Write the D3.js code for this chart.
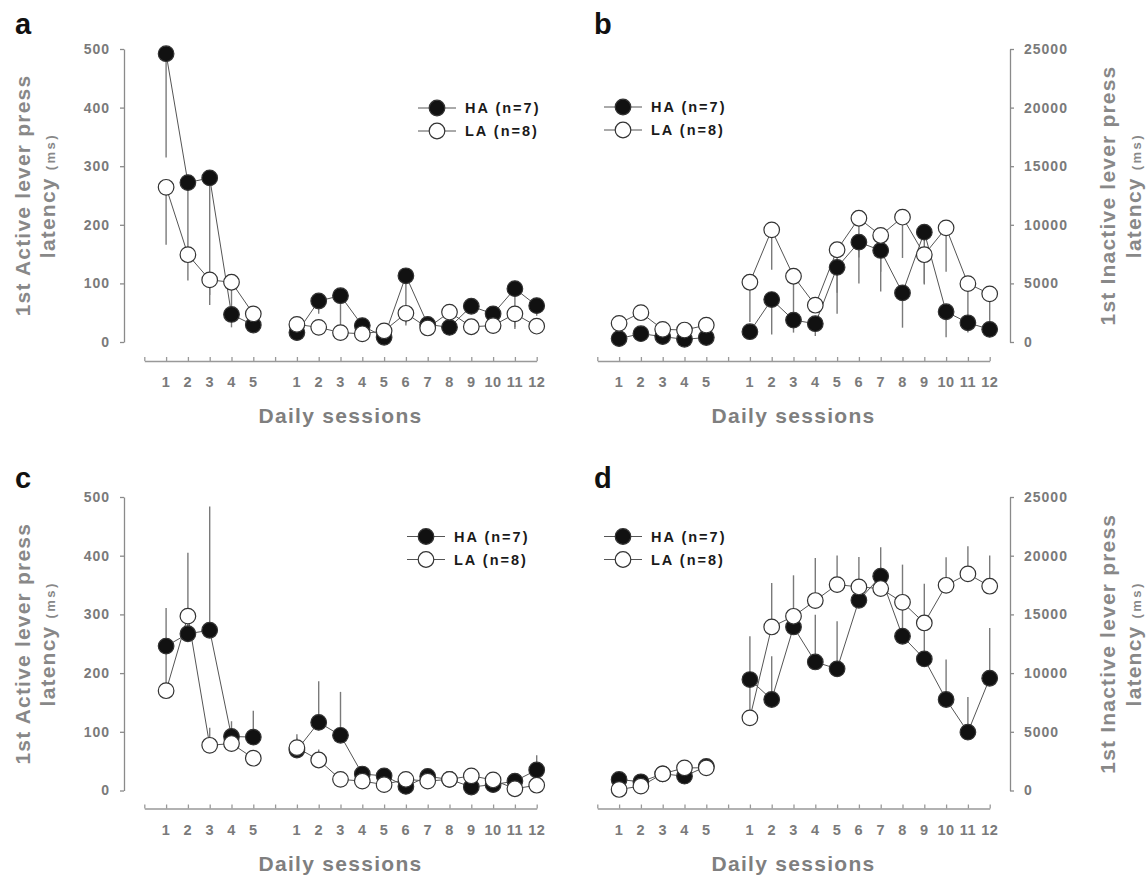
<!DOCTYPE html>
<html>
<head>
<meta charset="utf-8">
<script src="https://cdn.jsdelivr.net/npm/d3@7"></script>
<style>
  body { margin: 0; background: #fff; }
  svg text { font-family: "Liberation Sans", Arial, sans-serif; font-weight: bold; }
</style>
</head>
<body>
<svg id="chart" width="1148" height="875"></svg>
<script>
// session labels: 5 early sessions, a gap, then 12 later sessions
const phase1Labels = ["1", "2", "3", "4", "5"];
const phase2Labels = ["1", "2", "3", "4", "5", "6", "7", "8", "9", "10", "11", "12"];
const groupNames = ["HA (n=7)", "LA (n=8)"];

// panel a - active lever latency (ms), error bar drawn downward (value = bar end)
const aHA    = [492, 272, 280, 47, 29,   16, 70, 79, 28, 8, 113, 30, 25, 61, 48, 91, 62];
const aLA    = [264, 149, 106, 102, 48,  30, 25, 16, 14, 19, 49, 24, 51, 26, 28, 48, 27];
const aHAerr = [315, 160, 63, 25, 20,    14, 48, 25, 20, 5, 28, 25, 23, 50, 40, 25, 45];
const aLAerr = [166, 105, 80, 60, 35,    25, 20, 10, 10, 15, 32, 20, 40, 20, 22, 22, 20];

// panel b - inactive lever latency (ms), error bar drawn downward
const bHA    = [290, 710, 460, 230, 380,      880, 3620, 1870, 1560, 6370, 8520, 7810, 4190, 9370, 2580, 1640, 1080];
const bLA    = [1590, 2500, 1080, 1020, 1440, 5100, 9570, 5610, 3140, 7870, 10560, 9090, 10650, 7450, 9740, 4980, 4110];
const bHAerr = [150, 500, 300, 100, 200,      500, 650, 800, 510, 2400, 5000, 4300, 1220, 5000, 400, 800, 600];
const bLAerr = [1300, 2000, 800, 800, 1200,   1700, 6170, 1900, 2500, 4200, 7200, 6000, 7170, 4900, 6000, 1700, 1500];

// panel c - active lever latency (ms), error bar drawn upward
const cHA    = [246, 267, 273, 92, 91,   69, 116, 94, 28, 25, 7, 24, 19, 6, 10, 16, 35];
const cLA    = [170, 297, 77, 80, 55,    73, 52, 19, 16, 10, 19, 16, 19, 25, 18, 3, 9];
const cHAerr = [311, 300, 484, 118, 136, 90, 186, 168, 35, 32, 12, 30, 24, 10, 14, 20, 60];
const cLAerr = [245, 405, 107, 95, 65,   96, 70, 25, 22, 15, 24, 22, 24, 30, 22, 8, 14];

// panel d - inactive lever latency (ms), error bar drawn upward
const dHA    = [940, 740, 1420, 1220, 2050,  9450, 7750, 13930, 10950, 10360, 16200, 18250, 13140, 11210, 7750, 4970, 9560];
const dLA    = [90, 370, 1420, 1930, 1930,   6190, 13930, 14840, 16180, 17540, 17340, 17200, 16030, 14270, 17480, 18450, 17400];
const dHAerr = [1100, 900, 1500, 1400, 2200, 13140, 11440, 15000, 14980, 14420, 17000, 20720, 16000, 14000, 11150, 7970, 13850];
const dLAerr = [300, 600, 1600, 2100, 2100,  9600, 17680, 18330, 19810, 20010, 19890, 19000, 19240, 17620, 19860, 20800, 20010];

const activeTicks = [0, 100, 200, 300, 400, 500];
const inactiveTicks = [0, 5000, 10000, 15000, 20000, 25000];

const svg = d3.select("#chart");
const sessionLabels = phase1Labels.concat(phase2Labels);
// position on the axis: slot 0 is the axis start, slot 6 is the gap between phases
const slotOf = i => i < phase1Labels.length ? i + 1 : i + 2;

function drawPanel(p) {
    const g = svg.append("g");
    const x = d3.scaleLinear().domain([0, 18]).range([p.xLeft, p.xRight]);
    const y = d3.scaleLinear().domain([0, p.yMax]).range([p.yBottom, p.yTop]);

    // panel letter
    g.append("text")
        .attr("x", p.letterX).attr("y", p.letterY)
        .attr("font-size", 29).attr("fill", "#111")
        .text(p.letter);

    // x axis (ticks point up)
    const xAx = g.append("g")
        .attr("transform", "translate(0," + p.xAxisY + ")")
        .call(d3.axisTop(x).tickValues(d3.range(0, 19)).tickSize(4).tickSizeOuter(0).tickFormat(""));
    xAx.select(".domain").attr("stroke", "#999").attr("stroke-width", 1.3);
    xAx.selectAll(".tick line").attr("stroke", "#999").attr("stroke-width", 1.3);

    g.selectAll(".xlab")
        .data(sessionLabels)
        .enter()
        .append("text")
            .attr("x", (d, i) => x(slotOf(i)))
            .attr("y", p.xAxisY + 26)
            .attr("text-anchor", "middle")
            .attr("font-size", 14.5)
            .attr("letter-spacing", "0.5px")
            .attr("fill", "#7a7a7a")
            .text(d => d);

    g.append("text")
        .attr("x", (p.xLeft + p.xRight) / 2)
        .attr("y", p.xAxisY + 62)
        .attr("text-anchor", "middle")
        .attr("font-size", 21)
        .attr("letter-spacing", "1.3px")
        .attr("fill", "#7f7f7f")
        .text("Daily sessions");

    // y axis
    const yAxisGen = (p.side === "left" ? d3.axisLeft(y) : d3.axisRight(y))
        .tickValues(p.yTicks).tickFormat(d3.format("d"))
        .tickSize(4).tickSizeOuter(0).tickPadding(10);
    const yAx = g.append("g")
        .attr("transform", "translate(" + p.yAxisX + ",0)")
        .call(yAxisGen);
    yAx.select(".domain").attr("stroke", "#8a8a8a").attr("stroke-width", 1.3);
    yAx.selectAll(".tick line").attr("stroke", "#8a8a8a").attr("stroke-width", 1.3);
    yAx.selectAll(".tick text")
        .attr("font-size", 14)
        .attr("letter-spacing", "1px")
        .attr("fill", "#7a7a7a")
        .attr("font-family", "Liberation Sans, Arial, sans-serif")
        .attr("font-weight", "bold");

    // y axis title, two rotated lines
    const midY = (p.yTop + p.yBottom) / 2;
    g.append("text")
        .attr("transform", "translate(" + p.title1X + "," + midY + ") rotate(-90)")
        .attr("text-anchor", "middle").attr("dy", "0.36em")
        .attr("font-size", 21).attr("letter-spacing", "1.2px")
        .attr("fill", "#888")
        .text(p.title);
    const t2 = g.append("text")
        .attr("transform", "translate(" + p.title2X + "," + midY + ") rotate(-90)")
        .attr("text-anchor", "middle").attr("dy", "0.36em")
        .attr("fill", "#888");
    t2.append("tspan").attr("font-size", 21).attr("letter-spacing", "1.2px").text("latency ");
    t2.append("tspan").attr("font-size", 13).attr("letter-spacing", "2.5px").text("(ms)");

    const series = [
        { vals: p.ha, err: p.haErr, fill: "#111" },
        { vals: p.la, err: p.laErr, fill: "#fff" }
    ];

    const line = d3.line()
        .x(d => x(slotOf(d.i)))
        .y(d => y(d.v));

    // connecting lines, one path per phase
    series.forEach(s => {
        const pts = s.vals.map((v, i) => ({ v: v, i: i }));
        [pts.slice(0, 5), pts.slice(5)].forEach(seg => {
            g.append("path")
                .datum(seg)
                .attr("d", line)
                .attr("fill", "none")
                .attr("stroke", "#555")
                .attr("stroke-width", 1);
        });
    });

    // one-sided error bars
    series.forEach(s => {
        g.selectAll(null)
            .data(s.vals)
            .enter()
            .append("line")
                .attr("x1", (d, i) => x(slotOf(i)))
                .attr("x2", (d, i) => x(slotOf(i)))
                .attr("y1", d => y(d))
                .attr("y2", (d, i) => y(s.err[i]))
                .attr("stroke", "#7a7a7a")
                .attr("stroke-width", 1.4);
    });

    // markers: HA first, LA on top
    series.forEach(s => {
        g.selectAll(null)
            .data(s.vals)
            .enter()
            .append("circle")
                .attr("cx", (d, i) => x(slotOf(i)))
                .attr("cy", d => y(d))
                .attr("r", 7.8)
                .attr("fill", s.fill)
                .attr("stroke", "#333")
                .attr("stroke-width", 1.2);
    });

    // legend
    const legend = g.append("g").attr("id", "legend-" + p.letter);
    groupNames.forEach((name, k) => {
        const cy = p.legY + k * 23;
        legend.append("line")
            .attr("x1", p.legX - 19).attr("x2", p.legX + 19)
            .attr("y1", cy).attr("y2", cy)
            .attr("stroke", "#555").attr("stroke-width", 1);
        legend.append("circle")
            .attr("cx", p.legX).attr("cy", cy).attr("r", 7.8)
            .attr("fill", series[k].fill)
            .attr("stroke", "#333").attr("stroke-width", 1.2);
        legend.append("text")
            .attr("x", p.legX + 28).attr("y", cy).attr("dy", "0.36em")
            .attr("font-size", 14.5).attr("letter-spacing", "2px")
            .attr("fill", "#1a1a1a")
            .text(name);
    });
}

const leftX = { xLeft: 144.3, xRight: 536.7, yAxisX: 124, side: "left", letterX: 15, title1X: 22, title2X: 49 };
const rightX = { xLeft: 597.3, xRight: 989.7, yAxisX: 1010, side: "right", letterX: 594, title1X: 1107, title2X: 1135 };
const topY = { yTop: 49, yBottom: 342, xAxisY: 361, letterY: 34 };
const botY = { yTop: 497, yBottom: 790.5, xAxisY: 808.5, letterY: 488 };

drawPanel(Object.assign({ letter: "a", ha: aHA, la: aLA, haErr: aHAerr, laErr: aLAerr,
    yMax: 500, yTicks: activeTicks, title: "1st Active lever press", legX: 437, legY: 108 }, leftX, topY));
drawPanel(Object.assign({ letter: "b", ha: bHA, la: bLA, haErr: bHAerr, laErr: bLAerr,
    yMax: 25000, yTicks: inactiveTicks, title: "1st Inactive lever press", legX: 623, legY: 107 }, rightX, topY));
drawPanel(Object.assign({ letter: "c", ha: cHA, la: cLA, haErr: cHAerr, laErr: cLAerr,
    yMax: 500, yTicks: activeTicks, title: "1st Active lever press", legX: 426, legY: 536.5 }, leftX, botY));
drawPanel(Object.assign({ letter: "d", ha: dHA, la: dLA, haErr: dHAerr, laErr: dLAerr,
    yMax: 25000, yTicks: inactiveTicks, title: "1st Inactive lever press", legX: 623, legY: 536.5 }, rightX, botY));
</script>
</body>
</html>
